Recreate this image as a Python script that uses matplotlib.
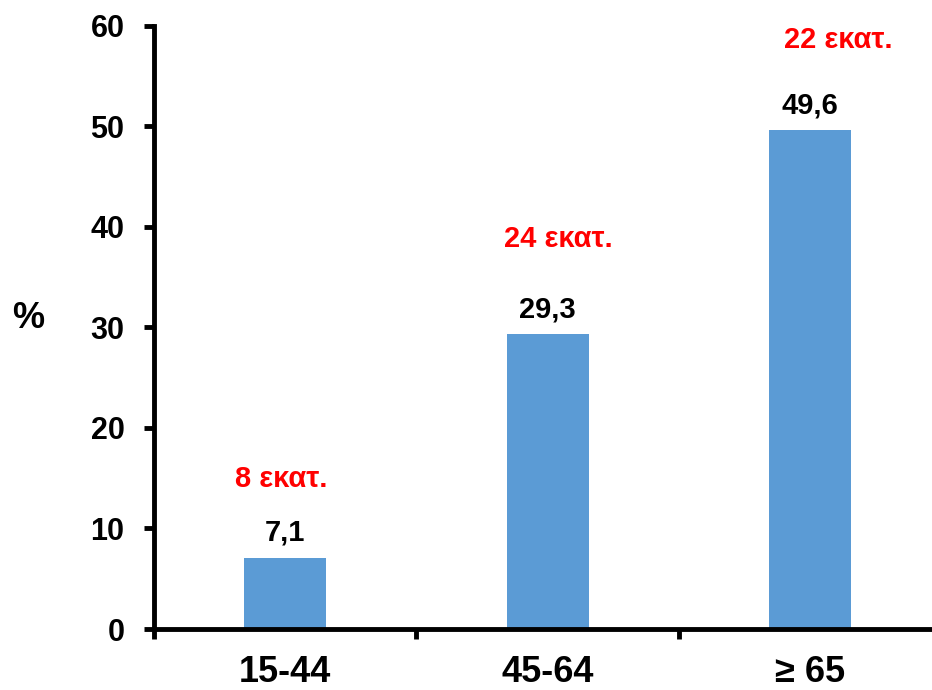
import matplotlib
matplotlib.use("Agg")
import matplotlib.pyplot as plt
from matplotlib.ticker import FixedLocator, NullFormatter

# Data
categories = ["15-44", "45-64", "\u2265 65"]
percent = [7.1, 29.3, 49.6]
value_labels = ["7,1", "29,3", "49,6"]
population_labels = ["8 \u03b5\u03ba\u03b1\u03c4.", "24 \u03b5\u03ba\u03b1\u03c4.", "22 \u03b5\u03ba\u03b1\u03c4."]
y_ticks = [0, 10, 20, 30, 40, 50, 60]

plt.rcParams["font.family"] = ["Liberation Sans", "DejaVu Sans"]
plt.rcParams["font.weight"] = "bold"

BAR_COLOR = "#5B9BD5"
LW = 3.5

fig = plt.figure(figsize=(9.32, 6.90), dpi=100)
ax = fig.add_axes([0.1648, 0.0884, 0.8455, 0.8746])

x = list(range(len(categories)))
ax.bar(x, percent, width=0.312, color=BAR_COLOR, zorder=2)

ax.set_xlim(-0.5, 2.5)
ax.set_ylim(0, 60)

# spines
for side in ("top", "right"):
    ax.spines[side].set_visible(False)
for side in ("left", "bottom"):
    ax.spines[side].set_linewidth(LW)
    ax.spines[side].set_color("black")
    ax.spines[side].set_capstyle("projecting")

# y axis
ax.set_yticks(y_ticks)
ax.set_yticklabels([str(t) for t in y_ticks])
ax.tick_params(axis="y", direction="out", length=7, width=LW, pad=14,
               labelsize=22)

# x axis: labels at category centres, tick marks at category boundaries
ax.set_xticks(x)
ax.set_xticklabels(categories)
ax.tick_params(axis="x", which="major", length=0, pad=19, labelsize=26)
ax.xaxis.set_minor_locator(FixedLocator([-0.5, 0.5, 1.5, 2.5]))
ax.xaxis.set_minor_formatter(NullFormatter())
ax.tick_params(axis="x", which="minor", direction="out", length=7, width=LW)

for lbl in ax.get_xticklabels() + ax.get_yticklabels():
    lbl.set_fontweight("bold")

# value labels above bars
for xi, v, txt in zip(x, percent, value_labels):
    ax.annotate(txt, xy=(xi, v), xytext=(0, 12), textcoords="offset points",
                ha="center", va="baseline", fontsize=21, fontweight="bold",
                color="black")

# population labels (red)
red_offsets = [(-3, 51), (8, 63), (20, 59)]
for xi, v, txt, (dx, dy) in zip(x, percent, population_labels, red_offsets):
    ax.annotate(txt, xy=(xi, v), xytext=(dx, dy), textcoords="offset points",
                ha="center", va="baseline", fontsize=21, fontweight="bold",
                color="#FF0000")

fig.text(28 / 932, 1 - 318 / 690, "%", ha="center", va="center",
         fontsize=26, fontweight="bold")

fig.savefig("out.png", dpi=100)
